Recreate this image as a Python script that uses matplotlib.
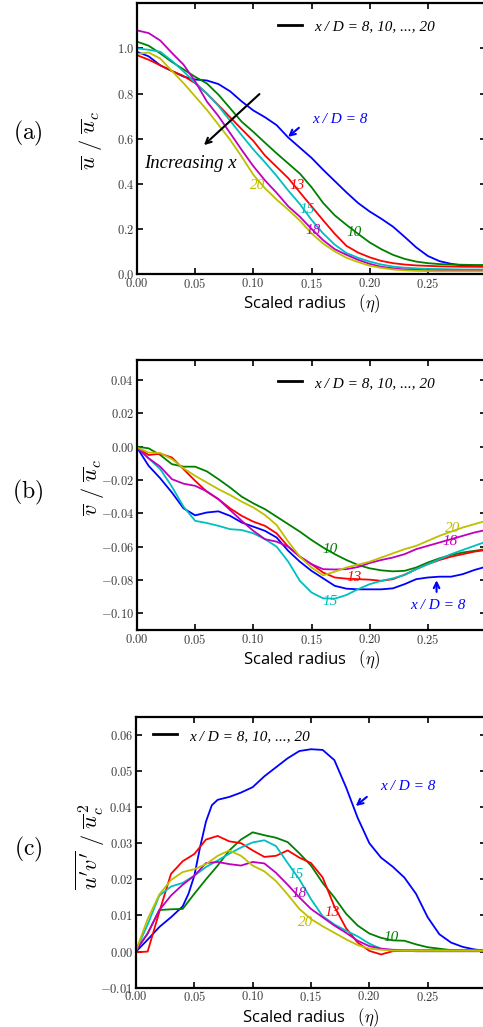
import matplotlib
matplotlib.use('Agg')
import matplotlib.pyplot as plt
from matplotlib.lines import Line2D

plt.rcParams['mathtext.fontset'] = 'cm'

# ---------------- data ----------------
ETA = [0.00, 0.01, 0.02, 0.03, 0.04, 0.05, 0.06, 0.07, 0.08, 0.09, 0.10,
       0.11, 0.12, 0.13, 0.14, 0.15, 0.16, 0.17, 0.18, 0.19, 0.20,
       0.21, 0.22, 0.23, 0.24, 0.25, 0.26, 0.27, 0.28, 0.29, 0.30]

# (a) mean axial velocity  u / u_c
u_8 = [0.985, 0.965, 0.925, 0.900, 0.875, 0.862, 0.858, 0.842, 0.810, 0.765, 0.725,
       0.695, 0.660, 0.605, 0.560, 0.515, 0.462, 0.412, 0.362, 0.315, 0.277,
       0.245, 0.210, 0.165, 0.118, 0.080, 0.057, 0.045, 0.038, 0.035, 0.034]
u_10 = [1.030, 1.012, 0.978, 0.940, 0.907, 0.874, 0.845, 0.795, 0.735, 0.675, 0.630,
        0.582, 0.535, 0.490, 0.445, 0.385, 0.315, 0.260, 0.218, 0.178, 0.140,
        0.110, 0.085, 0.067, 0.055, 0.048, 0.044, 0.042, 0.041, 0.040, 0.040]
u_13 = [0.970, 0.950, 0.925, 0.900, 0.878, 0.846, 0.800, 0.748, 0.695, 0.642, 0.590,
        0.525, 0.475, 0.425, 0.362, 0.300, 0.238, 0.178, 0.125, 0.095, 0.074,
        0.058, 0.048, 0.042, 0.038, 0.036, 0.034, 0.033, 0.032, 0.032, 0.032]
u_15 = [1.000, 0.994, 0.985, 0.945, 0.898, 0.848, 0.800, 0.745, 0.680, 0.615, 0.552,
        0.495, 0.435, 0.370, 0.310, 0.240, 0.180, 0.130, 0.093, 0.072, 0.055,
        0.042, 0.033, 0.028, 0.025, 0.023, 0.022, 0.021, 0.020, 0.020, 0.020]
u_18 = [1.080, 1.068, 1.035, 0.980, 0.928, 0.854, 0.765, 0.700, 0.625, 0.550, 0.478,
        0.415, 0.360, 0.300, 0.254, 0.200, 0.150, 0.110, 0.085, 0.063, 0.045,
        0.032, 0.025, 0.020, 0.018, 0.016, 0.015, 0.015, 0.015, 0.015, 0.015]
u_20 = [0.975, 0.982, 0.955, 0.900, 0.846, 0.787, 0.728, 0.662, 0.595, 0.520, 0.440,
        0.380, 0.330, 0.285, 0.237, 0.180, 0.135, 0.100, 0.072, 0.053, 0.037,
        0.027, 0.020, 0.016, 0.014, 0.013, 0.012, 0.012, 0.012, 0.012, 0.012]

# (b) mean radial velocity  v / u_c
v_8 = [-0.0005, -0.0115, -0.0190, -0.0275, -0.0370, -0.0412, -0.0395, -0.0388, -0.0415, -0.0455, -0.0480,
       -0.0505, -0.0545, -0.0625, -0.0690, -0.0745, -0.0790, -0.0835, -0.0852, -0.0856, -0.0856,
       -0.0856, -0.0850, -0.0825, -0.0795, -0.0785, -0.0780, -0.0780, -0.0765, -0.0740, -0.0720]
v_10 = [0.0000, -0.0010, -0.0050, -0.0105, -0.0120, -0.0120, -0.0148, -0.0195, -0.0245, -0.0300, -0.0340,
        -0.0375, -0.0420, -0.0465, -0.0510, -0.0560, -0.0605, -0.0645, -0.0680, -0.0710, -0.0730,
        -0.0742, -0.0748, -0.0745, -0.0725, -0.0695, -0.0670, -0.0650, -0.0635, -0.0625, -0.0615]
v_13 = [-0.0005, -0.0050, -0.0042, -0.0065, -0.0135, -0.0205, -0.0270, -0.0315, -0.0370, -0.0415, -0.0450,
        -0.0475, -0.0520, -0.0600, -0.0660, -0.0705, -0.0755, -0.0785, -0.0792, -0.0795, -0.0798,
        -0.0805, -0.0795, -0.0768, -0.0735, -0.0705, -0.0680, -0.0660, -0.0645, -0.0630, -0.0620]
v_15 = [-0.0005, -0.0070, -0.0135, -0.0240, -0.0360, -0.0445, -0.0458, -0.0475, -0.0495, -0.0500, -0.0520,
        -0.0555, -0.0600, -0.0690, -0.0805, -0.0875, -0.0910, -0.0912, -0.0890, -0.0855, -0.0825,
        -0.0805, -0.0790, -0.0770, -0.0735, -0.0705, -0.0675, -0.0645, -0.0620, -0.0595, -0.0570]
v_18 = [-0.0005, -0.0070, -0.0120, -0.0195, -0.0222, -0.0235, -0.0268, -0.0315, -0.0380, -0.0445, -0.0505,
        -0.0555, -0.0570, -0.0600, -0.0660, -0.0705, -0.0735, -0.0737, -0.0735, -0.0722, -0.0698,
        -0.0680, -0.0665, -0.0645, -0.0615, -0.0595, -0.0575, -0.0555, -0.0535, -0.0515, -0.0500]
v_20 = [-0.0005, -0.0035, -0.0038, -0.0075, -0.0130, -0.0175, -0.0215, -0.0255, -0.0290, -0.0330, -0.0365,
        -0.0410, -0.0470, -0.0570, -0.0660, -0.0725, -0.0772, -0.0750, -0.0725, -0.0708, -0.0690,
        -0.0665, -0.0640, -0.0615, -0.0595, -0.0565, -0.0535, -0.0510, -0.0485, -0.0465, -0.0445]

# (c) Reynolds shear stress  u'v' / u_c^2
ETA_C8 = [0.00, 0.01, 0.02, 0.03, 0.04, 0.045, 0.05, 0.055, 0.06, 0.065, 0.07, 0.08, 0.09, 0.10,
          0.11, 0.12, 0.13, 0.14, 0.15, 0.16, 0.17, 0.18, 0.19, 0.20, 0.21, 0.22, 0.23,
          0.24, 0.25, 0.26, 0.27, 0.28, 0.29, 0.30]
uv_8 = [0.0000, 0.0033, 0.0068, 0.0095, 0.0125, 0.0160, 0.0210, 0.0290, 0.0360, 0.0405, 0.0420, 0.0428, 0.0440, 0.0455,
        0.0485, 0.0510, 0.0535, 0.0555, 0.0560, 0.0558, 0.0530, 0.0455, 0.0370, 0.0300, 0.0260, 0.0235, 0.0205,
        0.0160, 0.0095, 0.0048, 0.0025, 0.0013, 0.0006, 0.0002]
uv_10 = [0.0003, 0.0050, 0.0115, 0.0117, 0.0118, 0.0160, 0.0200, 0.0238, 0.0280, 0.0310, 0.0330,
         0.0322, 0.0315, 0.0303, 0.0272, 0.0238, 0.0190, 0.0150, 0.0105, 0.0072, 0.0050,
         0.0038, 0.0031, 0.0030, 0.0020, 0.0012, 0.0008, 0.0004, 0.0003, 0.0002, 0.0002]
uv_13 = [-0.0002, 0.0000, 0.0110, 0.0215, 0.0250, 0.0270, 0.0310, 0.0320, 0.0305, 0.0300, 0.0280,
         0.0262, 0.0265, 0.0280, 0.0260, 0.0245, 0.0205, 0.0125, 0.0065, 0.0025, 0.0002,
         -0.0008, 0.0001, 0.0002, 0.0001, 0.0001, 0.0001, 0.0001, 0.0001, 0.0001, 0.0001]
uv_15 = [0.0003, 0.0075, 0.0155, 0.0180, 0.0190, 0.0210, 0.0234, 0.0252, 0.0271, 0.0288, 0.0302,
         0.0308, 0.0292, 0.0245, 0.0200, 0.0145, 0.0098, 0.0075, 0.0058, 0.0042, 0.0022,
         0.0008, 0.0003, 0.0002, 0.0001, 0.0001, 0.0001, 0.0001, 0.0001, 0.0001, 0.0001]
uv_18 = [0.0003, 0.0050, 0.0115, 0.0155, 0.0185, 0.0210, 0.0245, 0.0248, 0.0242, 0.0238, 0.0248,
         0.0244, 0.0218, 0.0185, 0.0150, 0.0118, 0.0095, 0.0072, 0.0052, 0.0030, 0.0015,
         0.0008, 0.0005, 0.0004, 0.0004, 0.0004, 0.0004, 0.0004, 0.0004, 0.0004, 0.0004]
uv_20 = [0.0003, 0.0090, 0.0158, 0.0198, 0.0220, 0.0228, 0.0242, 0.0265, 0.0280, 0.0265, 0.0238,
         0.0222, 0.0195, 0.0158, 0.0118, 0.0090, 0.0070, 0.0052, 0.0034, 0.0018, 0.0008,
         0.0005, 0.0003, 0.0003, 0.0003, 0.0003, 0.0003, 0.0003, 0.0003, 0.0003, 0.0003]

STATIONS = ['8', '10', '13', '15', '18', '20']
COLORS = ['#0000ff', '#008000', '#ff0000', '#00bfbf', '#bf00bf', '#bfbf00']

XTICKS = [0.00, 0.05, 0.10, 0.15, 0.20, 0.25]
XTICK_LABELS = ['0.00', '0.05', '0.10', '0.15', '0.20', '0.25']
YTICKS_A = [0.0, 0.2, 0.4, 0.6, 0.8, 1.0]
YTICK_LABELS_A = ['0.0', '0.2', '0.4', '0.6', '0.8', '1.0']
YTICKS_B = [-0.10, -0.08, -0.06, -0.04, -0.02, 0.00, 0.02, 0.04]
YTICK_LABELS_B = ['-0.10', '-0.08', '-0.06', '-0.04', '-0.02', '0.00', '0.02', '0.04']
YTICKS_C = [-0.01, 0.00, 0.01, 0.02, 0.03, 0.04, 0.05, 0.06]
YTICK_LABELS_C = ['-0.01', '0.00', '0.01', '0.02', '0.03', '0.04', '0.05', '0.06']

LEGEND_TEXT = 'x / D = 8, 10, ..., 20'

# ---------------- figure ----------------
W, H = 483, 1027
fig = plt.figure(figsize=(W / 100, H / 100), dpi=100)


def axes_px(left, top, right, bottom):
    return fig.add_axes([left / W, 1 - bottom / H, (right - left) / W, (bottom - top) / H])


axA = axes_px(137, 3.3, 486, 274)
axB = axes_px(137, 360, 486, 630)
axC = axes_px(136, 716.7, 486, 987.7)

SERIF_IT = dict(family='Liberation Serif', style='italic')
TICKCOL = '#3a3a3a'


def style(ax, yticks, ylabels, ylim):
    ax.set_xlim(0, 0.30)
    ax.set_ylim(*ylim)
    ax.set_xticks(XTICKS)
    ax.set_xticklabels(['$%s$' % t for t in XTICK_LABELS])
    ax.set_yticks(yticks)
    ax.set_yticklabels(['$%s$' % t for t in ylabels])
    ax.tick_params(direction='in', length=4.5, width=1.2, top=True, right=True,
                   labelsize=9, labelcolor=TICKCOL, pad=2)
    for s in ax.spines.values():
        s.set_linewidth(1.6)
    ax.set_xlabel('Scaled radius   $(\\eta)$', fontsize=12, family='Open Sans', labelpad=1)
    leg_handle = Line2D([], [], color='k', lw=2)
    return leg_handle


def legend(ax, x0, y0):
    ax.legend(handles=[Line2D([], [], color='k', lw=2)], labels=[LEGEND_TEXT],
              loc='center left', bbox_to_anchor=(x0, y0), frameon=False,
              prop=dict(family='Liberation Serif', style='italic', size=11),
              handlelength=1.55, handletextpad=0.85, borderpad=0, borderaxespad=0)


LW = 1.3

# ---- (a)
for ys, c in zip([u_8, u_10, u_13, u_15, u_18, u_20], COLORS):
    axA.plot(ETA, ys, color=c, lw=LW)
style(axA, YTICKS_A, YTICK_LABELS_A, (0, 1.2))
legend(axA, 0.404, 0.915)
axA.text(0.174, 0.687, 'x / D = 8', color=COLORS[0], ha='center', va='center', size=11, **SERIF_IT)
axA.annotate('', xy=(0.128, 0.600), xytext=(0.141, 0.656),
             arrowprops=dict(arrowstyle='->', color=COLORS[0], lw=1.5))
axA.text(0.0455, 0.492, 'Increasing x', color='k', ha='center', va='center', size=13.5, **SERIF_IT)
axA.annotate('', xy=(0.0558, 0.563), xytext=(0.107, 0.806),
             arrowprops=dict(arrowstyle='->', color='k', lw=1.5))
for lab, c, (x, y) in zip(['10', '13', '15', '18', '20'], COLORS[1:],
                          [(0.187, 0.186), (0.138, 0.394), (0.146, 0.284), (0.151, 0.195), (0.104, 0.394)]):
    axA.text(x, y, lab, color=c, ha='center', va='center', size=11, **SERIF_IT)

# ---- (b)
for ys, c in zip([v_8, v_10, v_13, v_15, v_18, v_20], COLORS):
    axB.plot(ETA, ys, color=c, lw=LW)
style(axB, YTICKS_B, YTICK_LABELS_B, (-0.11, 0.052))
legend(axB, 0.404, 0.915)
axB.text(0.259, -0.0952, 'x / D = 8', color=COLORS[0], ha='center', va='center', size=11, **SERIF_IT)
axB.annotate('', xy=(0.2575, -0.0785), xytext=(0.2575, -0.0888),
             arrowprops=dict(arrowstyle='->', color=COLORS[0], lw=1.5))
for lab, c, (x, y) in zip(['10', '13', '15', '18', '20'], COLORS[1:],
                          [(0.166, -0.0616), (0.187, -0.0784), (0.166, -0.0928), (0.269, -0.0568), (0.271, -0.049)]):
    axB.text(x, y, lab, color=c, ha='center', va='center', size=11, **SERIF_IT)

# ---- (c)
axC.plot(ETA_C8, uv_8, color=COLORS[0], lw=LW)
for ys, c in zip([uv_10, uv_13, uv_15, uv_18, uv_20], COLORS[1:]):
    axC.plot(ETA, ys, color=c, lw=LW)
style(axC, YTICKS_C, YTICK_LABELS_C, (-0.01, 0.065))
legend(axC, 0.0486, 0.929)
axC.text(0.233, 0.0456, 'x / D = 8', color=COLORS[0], ha='center', va='center', size=11, **SERIF_IT)
axC.annotate('', xy=(0.1865, 0.0398), xytext=(0.1997, 0.0433),
             arrowprops=dict(arrowstyle='->', color=COLORS[0], lw=1.5))
for lab, c, (x, y) in zip(['10', '13', '15', '18', '20'], COLORS[1:],
                          [(0.2185, 0.0039), (0.168, 0.0108), (0.137, 0.0214), (0.1397, 0.0161), (0.145, 0.0081)]):
    axC.text(x, y, lab, color=c, ha='center', va='center', size=11, **SERIF_IT)

# ---- panel letters and y labels
for lab, ypx in [('(a)', 133), ('(b)', 492), ('(c)', 849)]:
    fig.text(28 / W, 1 - ypx / H, r'$\mathrm{%s}$' % lab, fontsize=17, ha='center', va='center')
fig.text(90 / W, 1 - 140 / H, r'$\overline{u}\ /\ \overline{u}_c$', rotation=90,
         fontsize=16, ha='center', va='center')
fig.text(92 / W, 1 - 487 / H, r'$\overline{v}\ /\ \overline{u}_c$', rotation=90,
         fontsize=16, ha='center', va='center')
fig.text(90 / W, 1 - 847 / H, r"$\overline{u'v'}\ /\ \overline{u}_c^{\,2}$", rotation=90,
         fontsize=16, ha='center', va='center')

fig.savefig('out.png', dpi=100)
